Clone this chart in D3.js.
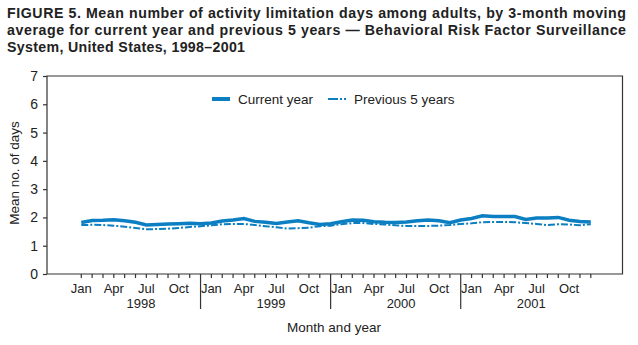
<!DOCTYPE html>
<html>
<head>
<meta charset="utf-8">
<script src="https://cdn.jsdelivr.net/npm/d3@7"></script>
<style>
  body { margin: 0; background: #fff; }
  svg text { font-family: "Liberation Sans", Arial, Helvetica, sans-serif; fill: #222; }
</style>
</head>
<body>
<div class="chart"></div>
<script>
// monthly 3-month moving averages, Jan 1998 - Dec 2001
var years = ["1998", "1999", "2000", "2001"];
var monthLabels = ["Jan", "Apr", "Jul", "Oct"];
var yTicks = [0, 1, 2, 3, 4, 5, 6, 7];

var currentYear = [
  1.82, 1.89, 1.90, 1.92, 1.88, 1.83, 1.73, 1.75, 1.77, 1.78, 1.79, 1.78,
  1.80, 1.87, 1.91, 1.96, 1.86, 1.83, 1.79, 1.84, 1.88, 1.81, 1.75, 1.78,
  1.85, 1.91, 1.90, 1.85, 1.83, 1.82, 1.84, 1.88, 1.91, 1.88, 1.81, 1.91,
  1.96, 2.06, 2.03, 2.03, 2.03, 1.93, 1.98, 1.98, 2.00, 1.90, 1.86, 1.84
];
var previous5 = [
  1.73, 1.74, 1.73, 1.71, 1.67, 1.63, 1.58, 1.59, 1.60, 1.63, 1.66, 1.69,
  1.72, 1.76, 1.77, 1.77, 1.73, 1.69, 1.65, 1.61, 1.62, 1.64, 1.69, 1.71,
  1.76, 1.80, 1.80, 1.77, 1.75, 1.72, 1.70, 1.70, 1.70, 1.71, 1.73, 1.77,
  1.79, 1.83, 1.84, 1.84, 1.83, 1.80, 1.77, 1.73, 1.76, 1.75, 1.72, 1.76
];

var blue = "#0b7fc1";
var W = 638, H = 345;
var plotL = 47, plotR = 622.5, plotT = 76, plotB = 274;

var svg = d3.select(".chart").append("svg")
    .attr("width", W)
    .attr("height", H);

// title
var title = [
  "FIGURE 5. Mean number of activity limitation days among adults, by 3-month moving",
  "average for current year and previous 5 years \u2014 Behavioral Risk Factor Surveillance",
  "System, United States, 1998\u20132001"
];
var titleWidths = [619, 619, 238];
svg.append("g").selectAll("text")
    .data(title)
    .enter().append("text")
    .attr("x", 7)
    .attr("y", function(d, i) { return 18 + i * 17; })
    .attr("font-size", 14.2)
    .attr("font-weight", "bold")
    .attr("textLength", function(d, i) { return titleWidths[i]; })
    .attr("lengthAdjust", "spacing")
    .text(function(d) { return d; });

var x = d3.scaleLinear().domain([0, 47]).range([81.3, 590.8]);
var y = d3.scaleLinear().domain([0, 7]).range([plotB, plotT]);

// frame: left axis, top and right border, bottom axis
svg.append("path")
    .attr("d", "M" + plotL + "," + plotB + "V" + plotT + "H" + plotR + "V" + plotB + "H" + plotL)
    .attr("fill", "none")
    .attr("stroke", "#333")
    .attr("stroke-width", 1.2);

// y axis
var yAxis = d3.axisLeft(y).tickValues(yTicks).tickFormat(d3.format("d"))
    .tickSize(4).tickPadding(5);
var yg = svg.append("g")
    .attr("transform", "translate(" + plotL + ",0)")
    .call(yAxis);
yg.select(".domain").remove();
yg.selectAll("line").attr("stroke", "#333").attr("stroke-width", 1.2);
yg.selectAll("text").attr("font-size", 14).attr("fill", "#222")
    .attr("font-family", "Liberation Sans, Arial, sans-serif");

svg.append("text")
    .attr("transform", "translate(19," + 173 + ") rotate(-90)")
    .attr("text-anchor", "middle")
    .attr("font-size", 13.5)
    .text("Mean no. of days");

// x axis: one tick per month, long ticks between years
var months = d3.range(48);
var xg = svg.append("g").attr("transform", "translate(0," + plotB + ")");
xg.selectAll("line")
    .data(months)
    .enter().append("line")
    .attr("x1", function(d) { return x(d); })
    .attr("x2", function(d) { return x(d); })
    .attr("y1", 0)
    .attr("y2", function(d) { return (d % 12 === 11 && d < 47) ? 35 : 4; })
    .attr("stroke", "#333")
    .attr("stroke-width", 1.2);

xg.selectAll("text.month")
    .data(months.filter(function(d) { return d % 3 === 0; }))
    .enter().append("text")
    .attr("class", "month")
    .attr("x", function(d) { return x(d); })
    .attr("y", 19)
    .attr("text-anchor", "middle")
    .attr("font-size", 13)
    .text(function(d) { return monthLabels[(d % 12) / 3]; });

xg.selectAll("text.year")
    .data(years)
    .enter().append("text")
    .attr("class", "year")
    .attr("x", function(d, i) { return (x(i * 12) + x(i * 12 + 11)) / 2; })
    .attr("y", 34)
    .attr("text-anchor", "middle")
    .attr("font-size", 13)
    .text(function(d) { return d; });

svg.append("text")
    .attr("x", 334)
    .attr("y", 332)
    .attr("text-anchor", "middle")
    .attr("font-size", 13.5)
    .text("Month and year");

// series
var line = d3.line()
    .x(function(d, i) { return x(i); })
    .y(function(d) { return y(d); });

svg.append("path")
    .datum(previous5)
    .attr("d", line)
    .attr("fill", "none")
    .attr("stroke", blue)
    .attr("stroke-width", 2)
    .attr("stroke-dasharray", "7,2,2,2");

svg.append("path")
    .datum(currentYear)
    .attr("d", line)
    .attr("fill", "none")
    .attr("stroke", blue)
    .attr("stroke-width", 3.5);

// legend
var lg = svg.append("g").attr("transform", "translate(0,99)");
lg.append("line").attr("x1", 212).attr("x2", 230).attr("y1", 0).attr("y2", 0)
    .attr("stroke", blue).attr("stroke-width", 4);
lg.append("text").attr("x", 238).attr("y", 5).attr("font-size", 13.5).text("Current year");
lg.append("line").attr("x1", 328).attr("x2", 346).attr("y1", 0).attr("y2", 0)
    .attr("stroke", blue).attr("stroke-width", 2).attr("stroke-dasharray", "10,2,2,2");
lg.append("text").attr("x", 354).attr("y", 5).attr("font-size", 13.5).text("Previous 5 years");
</script>
</body>
</html>
